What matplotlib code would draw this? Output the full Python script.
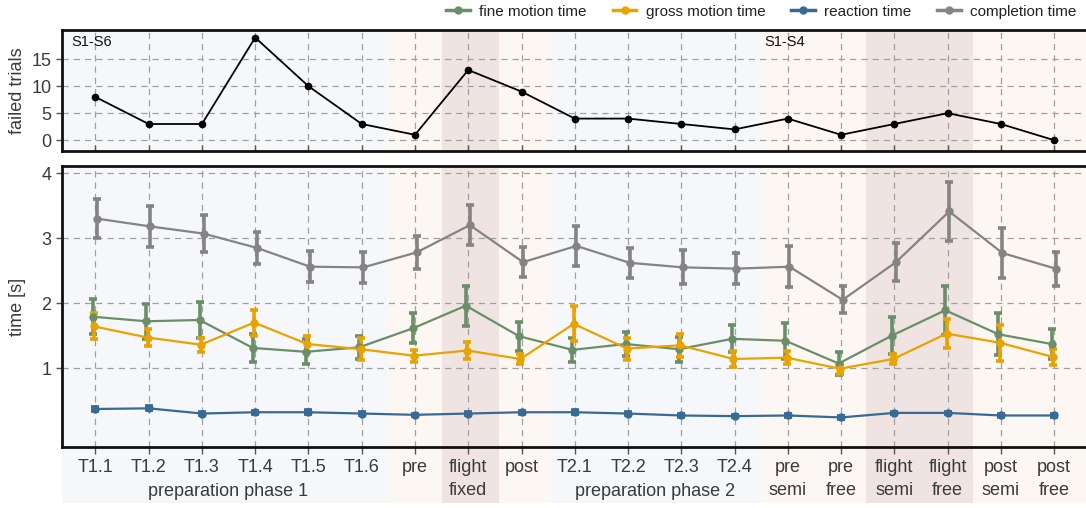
import numpy as np
import matplotlib
matplotlib.use("Agg")
import matplotlib.pyplot as plt
from matplotlib.lines import Line2D
from matplotlib.patches import Rectangle

plt.rcParams['font.family'] = ['Liberation Sans', 'DejaVu Sans']

# ---------------- data ----------------
conditions = ["T1.1", "T1.2", "T1.3", "T1.4", "T1.5", "T1.6", "pre", "flight", "post",
              "T2.1", "T2.2", "T2.3", "T2.4", "pre", "pre", "flight", "flight", "post", "post"]
sub_labels = ["", "", "", "", "", "", "", "fixed", "",
              "", "", "", "", "semi", "free", "semi", "free", "semi", "free"]
group_labels = ["preparation phase 1", "preparation phase 2"]
group_centers = [2.5, 10.5]

failed_trials = [8, 3, 3, 19, 10, 3, 1, 13, 9, 4, 4, 3, 2, 4, 1, 3, 5, 3, 0]

completion_mean = [3.30, 3.18, 3.07, 2.85, 2.56, 2.55, 2.78, 3.20, 2.63,
                   2.88, 2.62, 2.55, 2.53, 2.56, 2.05, 2.63, 3.41, 2.77, 2.53]
completion_err = [0.30, 0.31, 0.29, 0.25, 0.24, 0.24, 0.26, 0.31, 0.23,
                  0.31, 0.23, 0.26, 0.24, 0.32, 0.21, 0.29, 0.45, 0.38, 0.26]

fine_mean = [1.79, 1.72, 1.74, 1.31, 1.25, 1.32, 1.61, 1.96, 1.49,
             1.28, 1.37, 1.29, 1.45, 1.42, 1.07, 1.50, 1.89, 1.52, 1.37]
fine_err = [0.27, 0.27, 0.27, 0.21, 0.19, 0.18, 0.23, 0.31, 0.22,
            0.18, 0.19, 0.19, 0.21, 0.28, 0.18, 0.29, 0.38, 0.32, 0.23]

gross_mean = [1.64, 1.47, 1.36, 1.70, 1.37, 1.29, 1.19, 1.27, 1.14,
              1.68, 1.30, 1.35, 1.14, 1.16, 0.99, 1.14, 1.53, 1.39, 1.17]
gross_err = [0.20, 0.13, 0.11, 0.20, 0.12, 0.17, 0.09, 0.13, 0.08,
             0.27, 0.17, 0.18, 0.12, 0.10, 0.08, 0.08, 0.22, 0.28, 0.13]

reaction_mean = [0.37, 0.38, 0.30, 0.32, 0.32, 0.30, 0.28, 0.30, 0.32,
                 0.32, 0.30, 0.27, 0.26, 0.27, 0.24, 0.31, 0.31, 0.27, 0.27]
reaction_err = [0.03, 0.03, 0.02, 0.02, 0.03, 0.02, 0.02, 0.02, 0.02,
                0.03, 0.02, 0.02, 0.02, 0.02, 0.02, 0.02, 0.02, 0.02, 0.02]

series_names = ["fine motion time", "gross motion time", "reaction time", "completion time"]
series_colors = ["#6a8f68", "#e9a300", "#386a94", "#848484"]

# background bands (start, end, colour)
C_BLUE = "#f5f7fa"
C_PEACH = "#fdf7f3"
C_DARK = "#efe4e2"
bands = [(-0.7, 5.5, C_BLUE), (5.5, 8.57, C_PEACH), (6.5, 7.57, C_DARK),
         (8.57, 12.5, C_BLUE), (12.5, 19.0, C_PEACH), (14.47, 16.47, C_DARK)]

# ---------------- figure ----------------
W, H = 1086, 508
fig = plt.figure(figsize=(W / 100, H / 100), dpi=100)

left = 62 / W
right = 1.005
ax1 = fig.add_axes([left, 1 - 151 / H, right - left, (151 - 30) / H])
ax2 = fig.add_axes([left, 1 - 447 / H, right - left, (447 - 166) / H])

x = np.arange(len(conditions))
XMIN, XMAX = -0.627, 18.70

TXT = "#3a3a3a"
for ax in (ax1, ax2):
    for (a, b, c) in bands:
        ax.axvspan(a, b, color=c, zorder=0, lw=0)
    ax.set_xlim(XMIN, XMAX)
    ax.set_axisbelow(True)
    ax.grid(True, which="major", color="#a0a0a0", linestyle=(0, (5, 4)), linewidth=0.9)
    for s in ax.spines.values():
        s.set_linewidth(2.0)
        s.set_color("#111111")
    ax.spines["right"].set_visible(False)
    ax.set_xticks(x)
    ax.tick_params(axis="y", labelsize=13, labelcolor=TXT, length=4, width=1, color="#555555")

# ---- top panel ----
ax1.plot(x, failed_trials, color="black", lw=1.3, marker="o", ms=4.5, zorder=5)
ax1.set_ylim(-2, 20.4)
ax1.set_yticks([0, 5, 10, 15])
ax1.set_ylabel("failed trials", fontsize=13, color=TXT)
ax1.tick_params(axis="x", labelbottom=False, direction="in", length=4, width=1, color="#555555")
ax1.text(-0.45, 18.2, "S1-S6", fontsize=10.5, color="#111111", va="center", ha="left")
ax1.text(12.55, 18.2, "S1-S4", fontsize=10.5, color="#111111", va="center", ha="left")

# ---- bottom panel ----
series = [(fine_mean, fine_err, -0.045), (gross_mean, gross_err, -0.02),
          (reaction_mean, reaction_err, 0.0), (completion_mean, completion_err, 0.03)]
for (m, e, d), c in zip(series, series_colors):
    ax2.errorbar(x + d, m, yerr=e, color=c, lw=1.6, marker="o", ms=5,
                 elinewidth=2.6, capsize=3.2, capthick=2.6, zorder=5)

ax2.set_ylim(-0.215, 4.11)
ax2.set_yticks([1, 2, 3, 4])
ax2.set_ylabel("time [s]", fontsize=13, color=TXT)

for ax in (ax1, ax2):
    ax.yaxis.set_label_coords(-0.035, 0.5)

tick_text = [c if s == "" else c + "\n" + s for c, s in zip(conditions, sub_labels)]
ax2.set_xticklabels(tick_text, fontsize=13, color=TXT, linespacing=1.45)
ax2.tick_params(axis="x", direction="out", length=5, width=1, color="#555555", pad=4)

# shading continues below the lower panel behind the labels
trans = ax2.get_xaxis_transform()
ybot = -(503 - 447) / (447 - 166)
for (a, b, c) in bands:
    a2 = max(a, XMIN)
    b2 = min(b, XMAX)
    ax2.add_patch(Rectangle((a2, ybot), b2 - a2, -ybot, transform=trans,
                            facecolor=c, edgecolor="none", clip_on=False, zorder=0))

for g, cx in zip(group_labels, group_centers):
    ax2.text(cx, -(492 - 447) / (447 - 166), g, transform=trans, fontsize=13,
             color=TXT, ha="center", va="center")

# ---- legend ----
handles = [Line2D([0], [0], color=c, lw=2.5, marker="o", ms=5) for c in series_colors]
fig.legend(handles, series_names, loc="upper right", bbox_to_anchor=(1.004, 1.018),
           ncol=4, frameon=False, fontsize=11, handlelength=1.55, handletextpad=0.6,
           columnspacing=1.7, labelcolor="#222222")

fig.savefig("out.png", dpi=100)
